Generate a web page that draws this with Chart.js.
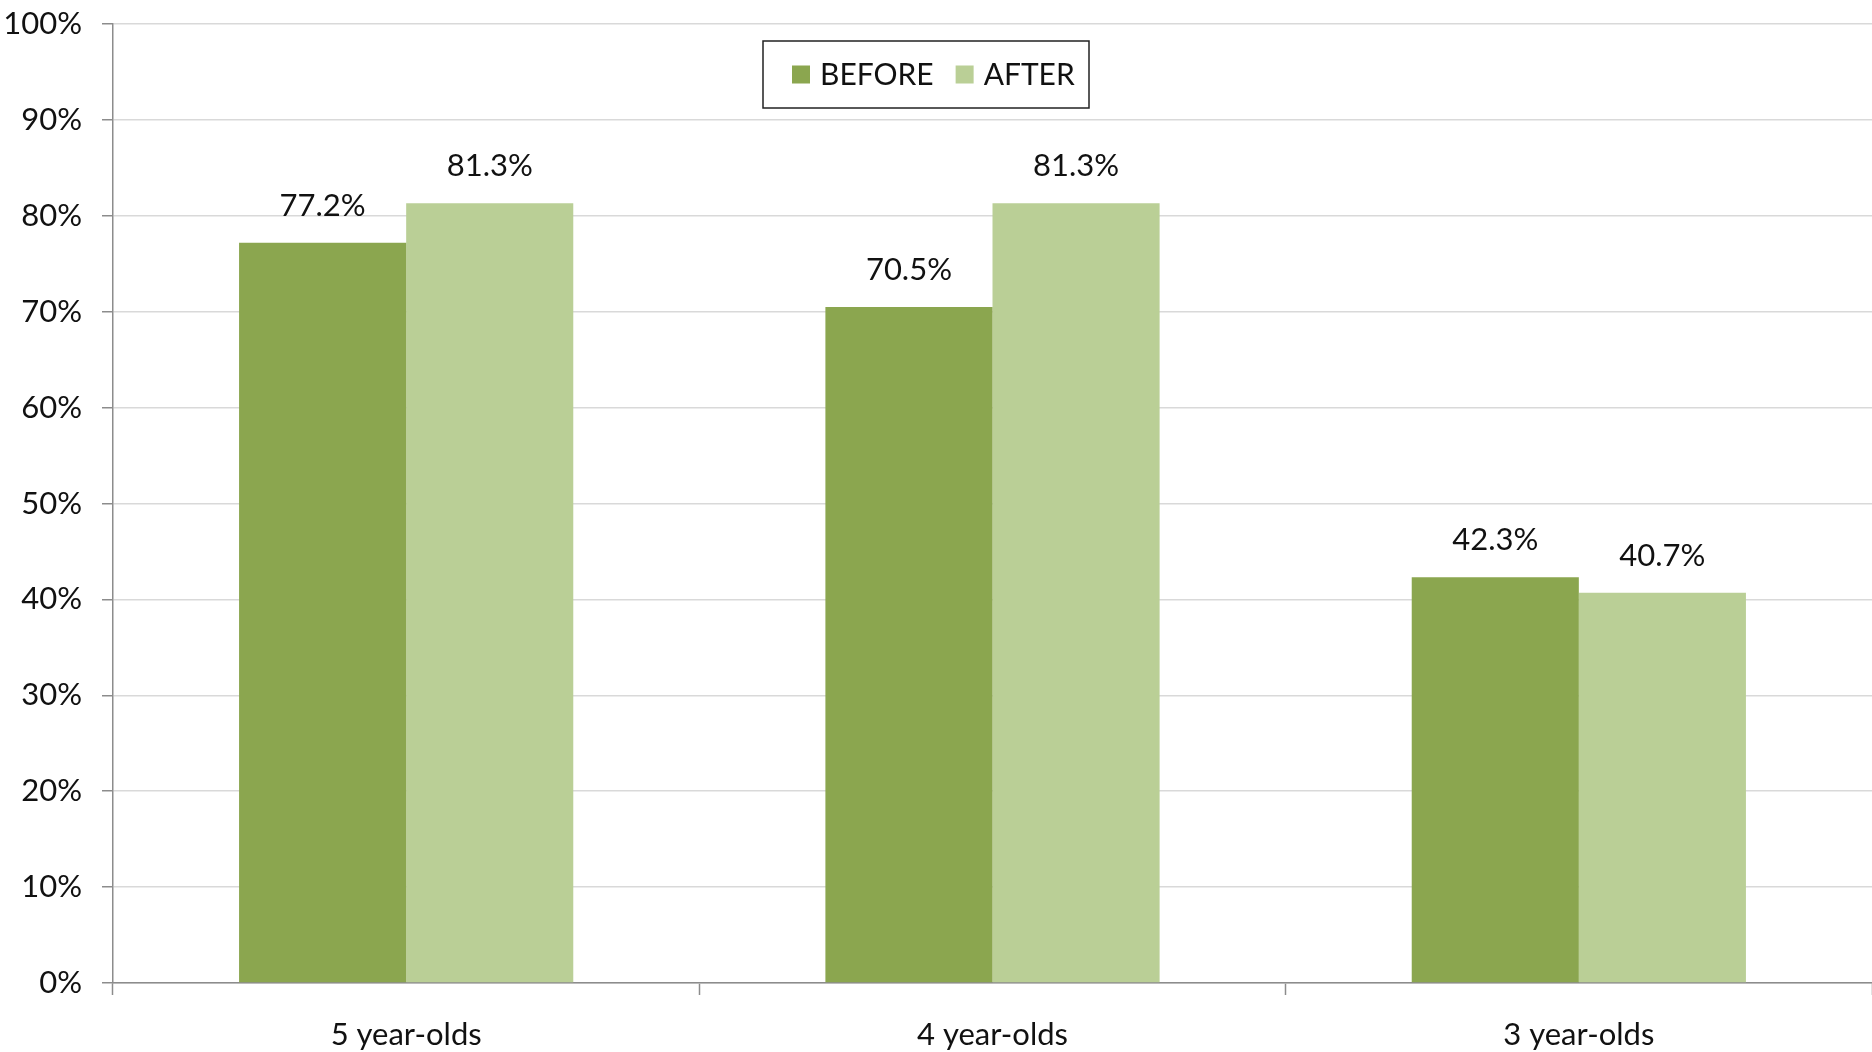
<!DOCTYPE html>
<html>
<head>
<meta charset="utf-8">
<script src="https://cdn.jsdelivr.net/npm/chart.js@4.4.1/dist/chart.umd.min.js"></script>
<style>
  html, body { margin: 0; padding: 0; background: #fff; }
  #wrap { position: relative; width: 1872px; height: 1052px; }
</style>
</head>
<body>
<div id="wrap"><canvas id="chart"></canvas></div>
<script>
const categories = ['5 year-olds', '4 year-olds', '3 year-olds'];
const seriesNames = ['BEFORE', 'AFTER'];
const beforeValues = [77.2, 70.5, 42.3];
const afterValues = [81.3, 81.3, 40.7];
const seriesColors = ['#8ba64f', '#bacf96'];

const FONT = 'Lato, "Open Sans", sans-serif';
const TEXT = '#111';
const AXIS = '#8c8c8c';

// value labels above each bar
const barLabels = {
    id: 'barLabels',
    afterDatasetsDraw(chart) {
        const ctx = chart.ctx;
        ctx.save();
        ctx.font = '31px ' + FONT;
        ctx.fillStyle = TEXT;
        ctx.textAlign = 'center';
        ctx.textBaseline = 'alphabetic';
        chart.data.datasets.forEach((ds, i) => {
            chart.getDatasetMeta(i).data.forEach((bar, j) => {
                ctx.fillText(ds.data[j].toFixed(1) + '%', bar.x, bar.y - 27);
            });
        });
        ctx.restore();
    }
};

// boxed legend sitting inside the plot area
const boxLegend = {
    id: 'boxLegend',
    afterDraw(chart) {
        const ctx = chart.ctx;
        const left = 763, top = 41, w = 326, h = 67;
        ctx.save();
        ctx.fillStyle = '#fff';
        ctx.fillRect(left, top, w, h);
        ctx.strokeStyle = '#222';
        ctx.lineWidth = 1.5;
        ctx.strokeRect(left, top, w, h);
        ctx.font = '30px ' + FONT;
        ctx.textBaseline = 'middle';
        ctx.textAlign = 'left';
        let x = left + 29;
        const cy = top + h / 2;
        chart.data.datasets.forEach((ds, i) => {
            ctx.fillStyle = ds.backgroundColor;
            ctx.fillRect(x, cy - 9, 18, 18);
            ctx.fillStyle = TEXT;
            ctx.fillText(ds.label, x + 28, cy + 1);
            x += 28 + ctx.measureText(ds.label).width + 22;
        });
        ctx.restore();
    }
};

const ctx = document.getElementById('chart').getContext('2d');

new Chart(ctx, {
    type: 'bar',
    data: {
        labels: categories,
        datasets: [
            { label: seriesNames[0], data: beforeValues, backgroundColor: seriesColors[0] },
            { label: seriesNames[1], data: afterValues, backgroundColor: seriesColors[1] }
        ]
    },
    plugins: [barLabels, boxLegend],
    options: {
        responsive: true,
        maintainAspectRatio: false,
        animation: false,
        devicePixelRatio: 1,
        layout: { padding: { top: 24, right: 0, left: 0, bottom: 0 } },
        datasets: {
            bar: { barPercentage: 1, categoryPercentage: 0.57 }
        },
        plugins: {
            legend: { display: false },
            tooltip: { enabled: false }
        },
        scales: {
            x: {
                afterFit: s => { s.height = 69; s.paddingLeft = 0; s.paddingRight = 0; },
                border: { color: AXIS, width: 1.5 },
                grid: {
                    offset: true,
                    drawOnChartArea: false,
                    tickLength: 12,
                    tickColor: AXIS,
                    tickWidth: 1.5
                },
                ticks: {
                    padding: 21,
                    color: TEXT,
                    font: { family: FONT, size: 31 }
                }
            },
            y: {
                min: 0,
                max: 100,
                afterFit: s => { s.width = 113; s.paddingTop = 0; s.paddingBottom = 0; },
                border: { color: AXIS, width: 1.5 },
                grid: {
                    color: '#d9d9d9',
                    lineWidth: 1.5,
                    tickLength: 11,
                    tickColor: AXIS,
                    tickWidth: 1.5
                },
                ticks: {
                    stepSize: 10,
                    padding: 20,
                    color: TEXT,
                    font: { family: FONT, size: 31 },
                    callback: v => v + '%'
                }
            }
        }
    }
});
</script>
</body>
</html>
